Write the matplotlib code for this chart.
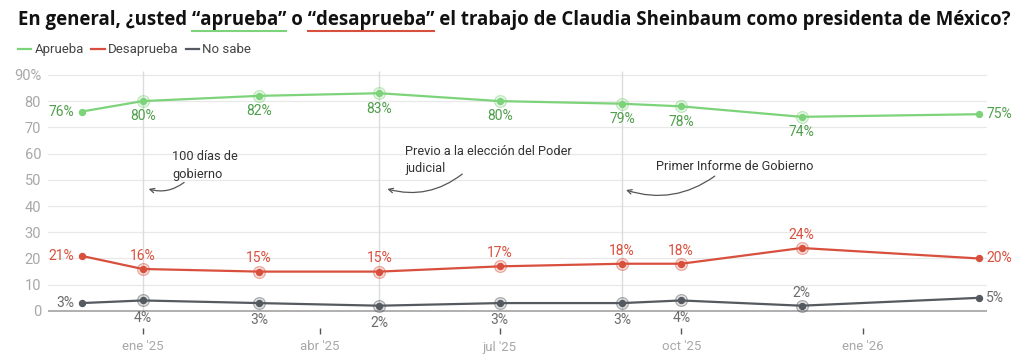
import datetime as dt
import matplotlib
matplotlib.use("Agg")
import matplotlib.pyplot as plt
from matplotlib.colors import to_rgba

# ------------------------------
# Data
# ------------------------------
fechas = ["2024-12-01", "2025-01-01", "2025-03-01", "2025-05-01", "2025-07-01",
          "2025-09-01", "2025-10-01", "2025-12-01", "2026-03-01"]
aprueba = [76, 80, 82, 83, 80, 79, 78, 74, 75]
desaprueba = [21, 16, 15, 15, 17, 18, 18, 24, 20]
no_sabe = [3, 4, 3, 2, 3, 3, 4, 2, 5]

tick_fechas = ["2025-01-01", "2025-04-01", "2025-07-01", "2025-10-01", "2026-01-01"]
tick_labels = ["ene '25", "abr '25", "jul '25", "oct '25", "ene '26"]
y_ticks = [0, 10, 20, 30, 40, 50, 60, 70, 80, 90]

eventos = ["2025-01-01", "2025-05-01", "2025-09-01"]
evento_textos = ["100 días de\ngobierno", "Previo a la elección del Poder\njudicial",
                 "Primer Informe de Gobierno"]

x = [dt.datetime.fromisoformat(f) for f in fechas]

plt.rcParams['font.family'] = ['Roboto', 'DejaVu Sans']

GREEN, GREEN_TXT = '#7dd37a', '#4f9e4c'
RED, RED_TXT = '#d8503d', '#d8503d'
GRAY, GRAY_TXT = '#555a60', '#6b6b6b'

fig = plt.figure(figsize=(10.24, 3.6), dpi=100)
ax = fig.add_axes([48 / 1024, 1 - 328 / 360, 939 / 1024, 261 / 360])

ax.set_xlim(dt.datetime(2024, 11, 14), dt.datetime(2026, 3, 5))
ax.set_ylim(-6.5, 93)

# grid
for v in y_ticks[1:]:
    ax.axhline(v, color='#e8e8e8', lw=0.9, zorder=0)
ax.axhline(0, color='#9a9a9a', lw=1.1, zorder=1)
for e in eventos:
    ax.vlines(dt.datetime.fromisoformat(e), 0, 91.5, color='#dcdcdc', lw=1.0, zorder=0)

# label placement: l=left, r=right, b=below, a=above
pos_a = ['l', 'b', 'b', 'b', 'b', 'b', 'b', 'b', 'r']
pos_d = ['l', 'a', 'a', 'a', 'a', 'a', 'a', 'a', 'r']
pos_n = ['l', 'b', 'b', 'b', 'b', 'b', 'b', 'a', 'r']

series = [
    (aprueba, GREEN, GREEN_TXT, pos_a, 'Aprueba', -11),
    (desaprueba, RED, RED_TXT, pos_d, 'Desaprueba', -11),
    (no_sabe, GRAY, GRAY_TXT, pos_n, 'No sabe', -12.5),
]

for vals, col, tcol, pos, name, below in series:
    ax.plot(x, vals, color=col, lw=1.6, zorder=3, label=name)
    # halos on inner points
    ax.plot(x[1:-1], vals[1:-1], 'o', ms=8.5, mfc=to_rgba(col, 0.18),
            mec=to_rgba(col, 0.45), mew=0.9, zorder=2)
    ax.plot(x, vals, 'o', ms=4.3, color=col, zorder=4)
    for xi, v, p in zip(x, vals, pos):
        if p == 'l':
            off, ha = (-5, 0), 'right'
        elif p == 'r':
            off, ha = (5, 0), 'left'
        elif p == 'b':
            off, ha = (0, below), 'center'
        else:
            off, ha = (0, 9.5), 'center'
        ax.annotate(f"{v}%", (xi, v), xytext=off, textcoords='offset points',
                    ha=ha, va='center', fontsize=10, color=tcol, zorder=5)

# event annotations
txt_pos = [("2025-01-16", 55.5), ("2025-05-14", 57.5), ("2025-09-18", 55.0)]
arr_start = [("2025-01-22", 49.0), ("2025-06-12", 52.2), ("2025-10-18", 51.4)]
arr_end = [("2025-01-04", 46.5), ("2025-05-05", 46.5), ("2025-09-03", 46.1)]
for t, tp, a0, a1 in zip(evento_textos, txt_pos, arr_start, arr_end):
    ax.text(dt.datetime.fromisoformat(tp[0]), tp[1], t, ha='left', va='center',
            fontsize=9.2, color='#333333', linespacing=1.45)
    ax.annotate('', xy=(dt.datetime.fromisoformat(a1[0]), a1[1]),
                xytext=(dt.datetime.fromisoformat(a0[0]), a0[1]),
                arrowprops=dict(arrowstyle='->', color='#555555', lw=0.9,
                                connectionstyle='arc3,rad=-0.25',
                                shrinkA=0, shrinkB=0, mutation_scale=8))

# axes
for s in ax.spines.values():
    s.set_visible(False)
ax.set_yticks(y_ticks)
ax.set_yticklabels([f"{v}%" if v == 90 else str(v) for v in y_ticks])
ax.set_xticks([dt.datetime.fromisoformat(f) for f in tick_fechas])
ax.set_xticklabels(tick_labels)
ax.tick_params(axis='y', length=0, pad=5, labelsize=10.5, labelcolor='#a8a8a8')
ax.tick_params(axis='x', length=4, width=1, color='#555555', pad=5,
               labelsize=9.5, labelcolor='#a8a8a8')

# legend
leg = fig.legend(loc='upper left', bbox_to_anchor=(9 / 1024, 1 - 34 / 360), ncol=3,
                 frameon=False, fontsize=9.5, handlelength=1.0, handletextpad=0.25,
                 columnspacing=0.55, labelcolor='#444444', borderaxespad=0.3)
for h in leg.legend_handles:
    h.set_linewidth(1.6)

# title with underlined words
title = "En general, ¿usted “aprueba” o “desaprueba” el trabajo de Claudia Sheinbaum como presidenta de México?"
TFONT = dict(fontsize=13.4, fontweight='bold', family=['Open Sans', 'DejaVu Sans'])
fig.text(18 / 1024, 1 - 20.5 / 360, title, ha='left', va='center', color='#111111', **TFONT)
r = fig.canvas.get_renderer()


def width_of(s):
    t = fig.text(0, 0, s, **TFONT)
    w = t.get_window_extent(r).width
    t.remove()
    return w


for word, col in [("“aprueba”", GREEN), ("“desaprueba”", RED)]:
    i = title.index(word)
    x0 = 18 + width_of(title[:i])
    x1 = x0 + width_of(word)
    fig.add_artist(plt.Line2D([x0 / 1024, x1 / 1024], [1 - 30.5 / 360] * 2,
                              color=col, lw=1.5))

fig.savefig("out.png", dpi=100)
